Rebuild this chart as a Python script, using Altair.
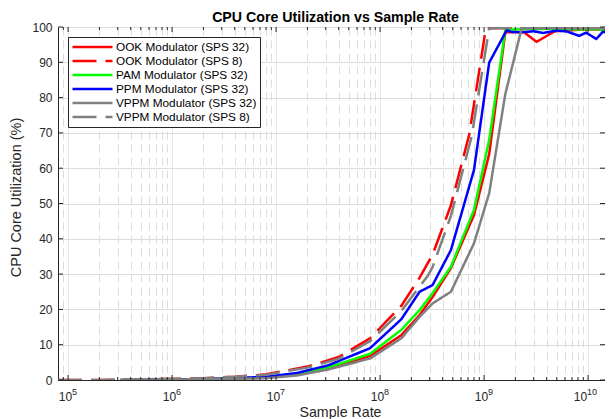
import altair as alt
import pandas as pd

series_names = [
    "OOK Modulator (SPS 32)",
    "OOK Modulator (SPS 8)",
    "PAM Modulator (SPS 32)",
    "PPM Modulator (SPS 32)",
    "VPPM Modulator (SPS 32)",
    "VPPM Modulator (SPS 8)",
]
series_colors = ["#ff0000", "#ff0000", "#00ff00", "#0000ff", "#808080", "#808080"]
series_dashes = [[1, 0], [24, 9], [1, 0], [1, 0], [1, 0], [24, 9]]

ook32_x = [3.2e5, 8e5, 1.6e6, 3.2e6, 8e6, 1.6e7, 3.2e7, 8e7, 1.6e8, 2.4e8, 3.2e8, 4.8e8,
           8e8, 1.12e9, 1.6e9, 2.4e9, 3.2e9, 4.8e9, 8e9, 1.2e10, 1.74e10]
ook32_y = [0.0, 0.1, 0.2, 0.3, 0.7, 1.6, 3.3, 6.8, 12.7, 18.4, 23.5, 31.7,
           46.7, 64.0, 98.5, 98.6, 95.8, 98.8, 99.2, 99.3, 99.2]

ook8_x = [8e4, 2e5, 4e5, 8e5, 2e6, 4e6, 8e6, 2e7, 4e7, 8e7, 1.6e8, 2.4e8, 3.2e8, 4.8e8,
          7.2e8, 9.6e8, 1.04e9, 2e9, 4e9, 8e9, 1.74e10]
ook8_y = [0.0, 0.0, 0.1, 0.25, 0.5, 0.9, 1.6, 3.8, 6.5, 11.8, 21.0, 29.0, 35.5, 49.5,
          69.5, 93.0, 99.7, 99.6, 99.8, 99.7, 99.8]

pam32_x = [3.2e5, 8e5, 1.6e6, 3.2e6, 8e6, 1.6e7, 3.2e7, 8e7, 1.6e8, 2.4e8, 3.2e8, 4.8e8,
           8e8, 1.12e9, 1.6e9, 2.4e9, 4.8e9, 8e9, 1.28e10, 1.6e10, 1.74e10]
pam32_y = [0.0, 0.1, 0.2, 0.35, 0.8, 1.8, 3.6, 7.4, 14.2, 19.8, 24.6, 32.1,
           48.2, 68.0, 99.2, 99.4, 99.5, 99.3, 99.4, 98.0, 98.8]

ppm32_x = [3.2e5, 8e5, 1.6e6, 3.2e6, 8e6, 1.6e7, 3.2e7, 8e7, 1.6e8, 2.4e8, 3.2e8, 4.8e8,
           8e8, 1.12e9, 1.65e9, 1.85e9, 2.3e9, 3.0e9, 3.7e9, 5.0e9, 6.3e9, 8.2e9, 9.6e9,
           1.2e10, 1.38e10, 1.74e10]
ppm32_y = [0.0, 0.1, 0.25, 0.4, 0.9, 2.0, 4.2, 9.0, 17.2, 25.0, 26.9, 36.8,
           59.5, 89.9, 99.1, 98.6, 98.5, 98.8, 98.3, 99.0, 98.7, 97.5, 98.4,
           96.6, 98.6, 98.5]

vppm32_x = [3.2e5, 8e5, 1.6e6, 3.2e6, 8e6, 1.6e7, 3.2e7, 8e7, 1.6e8, 2.4e8, 3.2e8, 4.8e8,
            8e8, 1.12e9, 1.6e9, 2.3e9, 4.8e9, 8e9, 1.74e10]
vppm32_y = [0.0, 0.1, 0.2, 0.3, 0.5, 1.3, 3.0, 6.1, 11.8, 17.9, 21.7, 25.0,
            38.7, 52.9, 81.0, 99.6, 99.7, 99.6, 99.7]

vppm8_x = [8e4, 2e5, 4e5, 8e5, 2e6, 4e6, 8e6, 2e7, 4e7, 8e7, 1.6e8, 2.4e8, 2.88e8, 3.2e8,
           4.8e8, 7.6e8, 1.12e9, 2e9, 4e9, 8e9, 1.74e10]
vppm8_y = [0.0, 0.0, 0.1, 0.25, 0.5, 0.9, 1.5, 3.5, 6.0, 11.0, 19.5, 26.5, 29.5, 32.0,
           46.5, 69.0, 99.6, 99.8, 99.8, 99.8, 99.8]

series_x = [ook32_x, ook8_x, pam32_x, ppm32_x, vppm32_x, vppm8_x]
series_y = [ook32_y, ook8_y, pam32_y, ppm32_y, vppm32_y, vppm8_y]

x_major = [1e5, 1e6, 1e7, 1e8, 1e9, 1e10]
x_major_base = ["10", "10", "10", "10", "10", "10"]
x_major_exp = ["5", "6", "7", "8", "9", "10"]
x_domain = [8e4, 1.455e10]
x_minor = [k * 10.0 ** e for e in range(4, 11) for k in range(2, 10)
           if x_domain[0] < k * 10.0 ** e < x_domain[1]]
y_ticks = [0, 10, 20, 30, 40, 50, 60, 70, 80, 90, 100]

rows = []
for name, xs, ys in zip(series_names, series_x, series_y):
    for xv, yv in zip(xs, ys):
        rows.append({"series": name, "x": xv, "y": yv})
df = pd.DataFrame(rows)

FONT = "Liberation Sans"
AX = "#262626"
W, H = 547, 353

major_js = "[" + ", ".join(str(v) for v in x_major) + "]"

x_axis = alt.Axis(
    values=sorted(x_major + x_minor),
    labels=False,
    title="Sample Rate",
    grid=True,
    gridColor="#dcdcdc",
    gridDash={"condition": {"test": f"indexof({major_js}, datum.value) >= 0", "value": [1, 0]},
              "value": [8, 5]},
    ticks=False,
    tickSize=0,
    titlePadding=25,
    titleX=282,
    titleFont=FONT,
    titleFontSize=14.2,
    titleFontWeight="normal",
    titleColor=AX,
    domainColor=AX,
)
y_axis = alt.Axis(
    values=y_ticks,
    title="CPU Core Utilization (%)",
    grid=True,
    gridColor="#dcdcdc",
    ticks=False,
    tickSize=0,
    labelPadding=6,
    titlePadding=8,
    titleY=170,
    labelFontSize=12,
    labelFont=FONT,
    labelColor=AX,
    titleFont=FONT,
    titleFontSize=14.5,
    titleFontWeight="normal",
    titleColor=AX,
    domainColor=AX,
    labelFlush=False,
)

x_enc = alt.X("x:Q", scale=alt.Scale(type="log", domain=x_domain, nice=False), axis=x_axis)
y_enc = alt.Y("y:Q", scale=alt.Scale(domain=[0, 100], nice=False), axis=y_axis)

legend = alt.Legend(
    title=None,
    orient="none",
    legendX=10,
    legendY=10,
    symbolType="stroke",
    symbolSize=1600,
    symbolStrokeWidth=2.5,
    labelFontSize=11.8,
    labelFont=FONT,
    labelColor="#000000",
    labelOffset=2,
    labelLimit=400,
    strokeColor=AX,
    fillColor="#ffffff",
    padding=3,
    rowPadding=0,
    clipHeight=14,
)
color_enc = alt.Color("series:N", scale=alt.Scale(domain=series_names, range=series_colors),
                      legend=legend)
dash_enc = alt.StrokeDash("series:N", scale=alt.Scale(domain=series_names, range=series_dashes),
                          legend=legend)

layers = []
for name in series_names:
    layers.append(
        alt.Chart(df)
        .transform_filter(alt.datum.series == name)
        .mark_line(strokeWidth=2.5, clip=True)
        .encode(x=x_enc, y=y_enc, color=color_enc, strokeDash=dash_enc)
    )

xmaj_df = pd.DataFrame({"x": x_major, "base": x_major_base, "exp": x_major_exp})
xmin_df = pd.DataFrame({"x": x_minor})
yt_df = pd.DataFrame({"y": y_ticks})

tick_style = dict(color=AX, strokeWidth=1)
layers += [
    alt.Chart(xmaj_df).mark_rule(**tick_style).encode(x=x_enc, y=alt.value(H), y2=alt.value(H - 5)),
    alt.Chart(xmaj_df).mark_rule(**tick_style).encode(x=x_enc, y=alt.value(0), y2=alt.value(5)),
    alt.Chart(xmin_df).mark_rule(**tick_style).encode(x=x_enc, y=alt.value(H), y2=alt.value(H - 3)),
    alt.Chart(xmin_df).mark_rule(**tick_style).encode(x=x_enc, y=alt.value(0), y2=alt.value(3)),
    alt.Chart(yt_df).mark_rule(**tick_style).encode(y=y_enc, x=alt.value(0), x2=alt.value(5)),
    alt.Chart(yt_df).mark_rule(**tick_style).encode(y=y_enc, x=alt.value(W), x2=alt.value(W - 5)),
]

# x tick labels drawn as base "10" plus a raised exponent
for n_digits, base_dx, exp_dx in [(1, 4, 4), (2, -1, -1)]:
    sel = f"length(datum.exp) == {n_digits}"
    layers.append(
        alt.Chart(xmaj_df).transform_filter(sel)
        .mark_text(align="right", baseline="alphabetic", dx=base_dx, fontSize=12,
                   font=FONT, color=AX)
        .encode(x=x_enc, y=alt.value(H + 20.5), text="base:N")
    )
    layers.append(
        alt.Chart(xmaj_df).transform_filter(sel)
        .mark_text(align="left", baseline="alphabetic", dx=exp_dx, fontSize=9,
                   font=FONT, color=AX)
        .encode(x=x_enc, y=alt.value(H + 14.5), text="exp:N")
    )

chart = (
    alt.layer(*layers)
    .properties(
        width=W,
        height=H,
        padding={"left": 50, "top": 19, "right": 0, "bottom": 41},
        autosize=alt.AutoSizeParams(type="none"),
        title=alt.Title(
            "CPU Core Utilization vs Sample Rate",
            fontSize=14.2,
            fontWeight="bold",
            font=FONT,
            color="#000000",
            anchor="middle",
            offset=-4,
            dx=4,
        ),
    )
    .configure_view(stroke=AX, strokeWidth=1)
    .configure(background="#ffffff")
)

chart.save("out.html", embed_options={"renderer": "svg", "actions": False})
